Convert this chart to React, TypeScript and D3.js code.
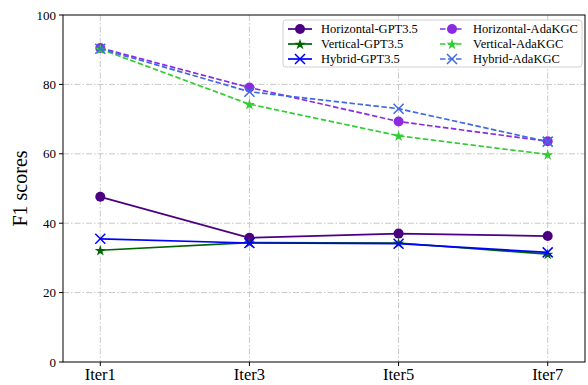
import React, { useEffect, useRef } from "react";
import * as d3 from "d3";

const iterations = ["Iter1", "Iter3", "Iter5", "Iter7"];
const iterX = [1, 3, 5, 7];
const yTicks = [0, 20, 40, 60, 80, 100];

const horizontalGpt = [47.6, 35.8, 37.0, 36.3];
const verticalGpt = [32.2, 34.4, 34.3, 31.1];
const hybridGpt = [35.5, 34.3, 34.1, 31.6];
const horizontalAda = [90.5, 79.1, 69.3, 63.6];
const verticalAda = [90.2, 74.3, 65.2, 59.8];
const hybridAda = [90.3, 77.9, 73.0, 63.5];

type Marker = "circle" | "star" | "x";

interface Series {
  name: string;
  values: number[];
  color: string;
  marker: Marker;
  dashed: boolean;
}

const seriesList: Series[] = [
  { name: "Horizontal-GPT3.5", values: horizontalGpt, color: "#4b0082", marker: "circle", dashed: false },
  { name: "Vertical-GPT3.5", values: verticalGpt, color: "#006400", marker: "star", dashed: false },
  { name: "Hybrid-GPT3.5", values: hybridGpt, color: "#0000ff", marker: "x", dashed: false },
  { name: "Horizontal-AdaKGC", values: horizontalAda, color: "#8a2be2", marker: "circle", dashed: true },
  { name: "Vertical-AdaKGC", values: verticalAda, color: "#32cd32", marker: "star", dashed: true },
  { name: "Hybrid-AdaKGC", values: hybridAda, color: "#4169e1", marker: "x", dashed: true },
];

const W = 588;
const H = 385;
const left = 63;
const right = 585;
const top = 15;
const bottom = 362;
const font = "'Liberation Serif', 'Times New Roman', serif";

function drawMarker(g: d3.Selection<SVGGElement, unknown, null, undefined>, m: Marker, x: number, y: number, color: string) {
  if (m === "circle") {
    g.append("circle").attr("cx", x).attr("cy", y).attr("r", 5).attr("fill", color);
  } else if (m === "star") {
    g.append("path")
      .attr("d", d3.symbol(d3.symbolStar, 38)())
      .attr("transform", `translate(${x},${y + 0.5})`)
      .attr("fill", color);
  } else {
    const s = 5;
    g.append("path")
      .attr("d", `M${x - s},${y - s}L${x + s},${y + s}M${x - s},${y + s}L${x + s},${y - s}`)
      .attr("stroke", color)
      .attr("stroke-width", 1.5)
      .attr("fill", "none");
  }
}

export default function App() {
  const ref = useRef<SVGSVGElement>(null);

  useEffect(() => {
    if (!ref.current) return;
    const svg = d3.select(ref.current);
    svg.selectAll("*").remove();

    const x = d3.scaleLinear().domain([0.5, 7.5]).range([left, right]);
    const y = d3.scaleLinear().domain([0, 100]).range([bottom, top]);

    svg.append("rect").attr("width", W).attr("height", H).attr("fill", "#fff");

    // grid
    const grid = svg.append("g").attr("stroke", "#c8c8c8").attr("stroke-width", 1).attr("stroke-dasharray", "6,2,1.5,2");
    yTicks.slice(1, -1).forEach((t) => {
      grid.append("line").attr("x1", left).attr("x2", right).attr("y1", y(t)).attr("y2", y(t));
    });
    iterX.forEach((v) => {
      grid.append("line").attr("x1", x(v)).attr("x2", x(v)).attr("y1", top).attr("y2", bottom);
    });

    // series
    const line = d3
      .line<number>()
      .x((_, i) => x(iterX[i]))
      .y((d) => y(d));

    seriesList.forEach((s) => {
      const g = svg.append("g");
      g.append("path")
        .attr("d", line(s.values))
        .attr("fill", "none")
        .attr("stroke", s.color)
        .attr("stroke-width", 1.7)
        .attr("stroke-dasharray", s.dashed ? "5.5,2.5" : null);
      s.values.forEach((v, i) => drawMarker(g, s.marker, x(iterX[i]), y(v), s.color));
    });

    // frame
    svg.append("rect")
      .attr("x", left).attr("y", top).attr("width", right - left).attr("height", bottom - top)
      .attr("fill", "none").attr("stroke", "#000").attr("stroke-width", 1);

    // y axis
    yTicks.forEach((t) => {
      svg.append("line").attr("x1", left - 4).attr("x2", left).attr("y1", y(t)).attr("y2", y(t)).attr("stroke", "#000");
      svg.append("text")
        .attr("x", left - 7).attr("y", y(t)).attr("dy", "0.35em")
        .attr("text-anchor", "end").attr("font-family", font).attr("font-size", 13)
        .text(t);
    });
    iterX.forEach((v, i) => {
      svg.append("line").attr("x1", x(v)).attr("x2", x(v)).attr("y1", bottom).attr("y2", bottom + 4).attr("stroke", "#000");
      svg.append("text")
        .attr("x", x(v)).attr("y", bottom + 18)
        .attr("text-anchor", "middle").attr("font-family", font).attr("font-size", 16.5)
        .text(iterations[i]);
    });

    svg.append("text")
      .attr("transform", `translate(27,${(top + bottom) / 2}) rotate(-90)`)
      .attr("text-anchor", "middle").attr("font-family", font).attr("font-size", 20)
      .text("F1 scores");

    // legend
    const lg = svg.append("g");
    lg.append("rect")
      .attr("x", 283).attr("y", 20).attr("width", 299).attr("height", 47).attr("rx", 3)
      .attr("fill", "#fff").attr("fill-opacity", 0.85).attr("stroke", "#d0d0d0");
    seriesList.forEach((s, i) => {
      const col = Math.floor(i / 3);
      const row = i % 3;
      const lx = 288 + col * 152;
      const ly = 29 + row * 15;
      lg.append("line")
        .attr("x1", lx).attr("x2", lx + 24).attr("y1", ly).attr("y2", ly)
        .attr("stroke", s.color).attr("stroke-width", 1.7)
        .attr("stroke-dasharray", s.dashed ? "5.5,2.5" : null);
      drawMarker(lg, s.marker, lx + 12, ly, s.color);
      lg.append("text")
        .attr("x", lx + 33).attr("y", ly).attr("dy", "0.35em")
        .attr("font-family", font).attr("font-size", 12.5)
        .text(s.name);
    });
  }, []);

  return (
    <svg ref={ref} width={W} height={H} style={{ position: "absolute", left: 0, top: 0 }} />
  );
}
